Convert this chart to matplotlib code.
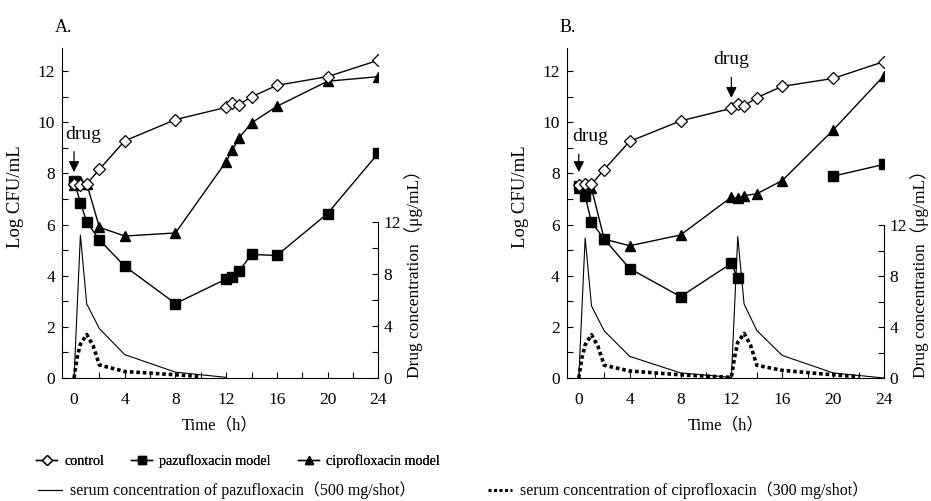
import numpy as np
import matplotlib
matplotlib.use("Agg")
import matplotlib.pyplot as plt
from matplotlib.lines import Line2D
from matplotlib.ticker import MultipleLocator

plt.rcParams['font.family'] = ['Liberation Serif', 'Noto Sans CJK SC']

# ---------------- data ----------------
time_ctrl = [0, 0.5, 1, 2, 4, 8, 12, 12.5, 13, 14, 16, 20, 24]

# Panel A
a_control = [7.6, 7.55, 7.58, 8.16, 9.27, 10.1, 10.58, 10.75, 10.69, 10.99, 11.44, 11.78, 12.42]
a_cipro = [7.55, 7.7, 7.6, 5.89, 5.55, 5.67, 8.46, 8.92, 9.38, 9.97, 10.62, 11.6, 11.78]
a_pazu = [7.7, 6.86, 6.1, 5.4, 4.37, 2.91, 3.87, 3.96, 4.17, 4.83, 4.79, 6.43, 8.79]

a_serum_pazu_t = [0, 0.5, 1, 2, 4, 8, 12]
a_serum_pazu = [0, 11.0, 5.7, 3.8, 1.8, 0.45, 0.05]
a_serum_cipro_t = [0, 0.25, 0.5, 1, 1.5, 2, 4, 8, 10]
a_serum_cipro = [0, 1.6, 2.6, 3.35, 2.5, 1.0, 0.5, 0.25, 0.12]

# Panel B
b_control = [7.53, 7.58, 7.57, 8.15, 9.25, 10.05, 10.54, 10.72, 10.64, 10.96, 11.4, 11.71, 12.37]
b_cipro = [7.42, 7.45, 7.42, 5.43, 5.17, 5.59, 7.07, 7.03, 7.13, 7.2, 7.72, 9.69, 11.82]
b_pazu_t = [0, 0.5, 1, 2, 4, 8, 12, 12.5, 20, 24]
b_pazu = [7.5, 7.11, 6.09, 5.43, 4.28, 3.18, 4.48, 3.89, 7.89, 8.35]
b_pazu_segments = [(0, 8), (8, 10)]  # connected segments (gap between 12.5 h and 20 h)

b_serum_pazu_t = [0, 0.5, 1, 2, 4, 8, 12, 12.5, 13, 14, 16, 20, 24]
b_serum_pazu = [0, 11.0, 5.66, 3.7, 1.7, 0.4, 0.05, 11.1, 5.8, 3.73, 1.77, 0.4, 0]
b_serum_cipro_t = [0, 0.25, 0.5, 1, 1.5, 2, 4, 8, 12, 12.25, 12.5, 13, 13.5, 14, 16, 20, 22]
b_serum_cipro = [0, 1.6, 2.6, 3.4, 2.5, 1.0, 0.55, 0.25, 0.05, 1.6, 2.8, 3.5, 2.6, 1.0, 0.6, 0.25, 0.1]

xticks = [0, 4, 8, 12, 16, 20, 24]

# ---------------- figure ----------------
fig = plt.figure(figsize=(9.31, 5.01), dpi=100)

TICK_FS = 12.5

def setup(ax_rect, panel, right_max):
    ax = fig.add_axes(ax_rect)
    ax.set_xlim(-0.95, 24)
    ax.set_ylim(0, 12.9)
    for s in ['top', 'right']:
        ax.spines[s].set_visible(False)
    ax.set_xticks(xticks)
    ax.xaxis.set_minor_locator(MultipleLocator(2))
    ax.yaxis.set_major_locator(MultipleLocator(2))
    ax.yaxis.set_minor_locator(MultipleLocator(1))
    ax.tick_params(which='both', direction='in', length=4, width=0.8)
    ax.tick_params(axis='x', which='major', labelsize=TICK_FS, pad=10)
    ax.tick_params(axis='y', which='major', labelsize=TICK_FS, pad=5)
    ax.set_ylabel('Log CFU/mL', fontsize=13.5, labelpad=4)
    ax.yaxis.set_label_coords(-0.12, 0.55)
    ax.set_xlabel('Time（h）', fontsize=12, labelpad=7)

    ax2 = ax.twinx()
    ax2.set_ylim(0, right_max)
    for s in ['top', 'left', 'bottom']:
        ax2.spines[s].set_visible(False)
    ax2.spines['right'].set_bounds(0, 12)
    ax2.set_yticks([0, 4, 8, 12])
    ax2.yaxis.set_minor_locator(matplotlib.ticker.FixedLocator([2, 6, 10]))
    ax2.tick_params(which='both', direction='in', length=4, width=0.8)
    ax2.tick_params(axis='y', which='major', labelsize=TICK_FS, pad=4)
    ax2.text(1.112, 0, 'Drug concentration（μg/mL）', transform=ax2.get_yaxis_transform(),
             rotation=90, ha='center', va='bottom', fontsize=12.5)
    fig.text(ax_rect[0] - 0.008, 0.945, panel, fontsize=13, ha='left', va='center')
    return ax, ax2

mk = dict(color='black', lw=1.0)

def drug_arrow(ax, x, y_text, y_tip, tx):
    ax.annotate('', xy=(x, y_tip), xytext=(x, y_text - 0.35),
                arrowprops=dict(arrowstyle='-|>', color='black', lw=0.9,
                                mutation_scale=16, shrinkA=0, shrinkB=0))
    ax.text(tx, y_text, 'drug', fontsize=14, ha='center', va='bottom')

# Panel A
axA, axA2 = setup([0.0666, 0.2455, 0.3397, 0.6587], 'A.', 25.4)
axA2.plot(a_serum_pazu_t, a_serum_pazu, color='black', lw=0.8)
axA2.plot(a_serum_cipro_t, a_serum_cipro, color='black', lw=2.6, linestyle=(0, (1, 0.8)))
axA.plot(time_ctrl, a_pazu, marker='s', ms=7.5, mfc='black', mec='black', **mk)
axA.plot(time_ctrl, a_cipro, marker='^', ms=7.5, mfc='black', mec='black', **mk)
axA.plot(time_ctrl, a_control, marker='D', ms=6.3, mfc='white', mec='black', mew=0.9, **mk)
axA.set_zorder(axA2.get_zorder() + 1)
axA.patch.set_visible(False)
drug_arrow(axA, 0, 9.2, 8.05, 0.75)

# Panel B
axB, axB2 = setup([0.6087, 0.2455, 0.3408, 0.6587], 'B.', 25.9)
axB2.plot(b_serum_pazu_t, b_serum_pazu, color='black', lw=0.8)
axB2.plot(b_serum_cipro_t, b_serum_cipro, color='black', lw=2.6, linestyle=(0, (1, 0.8)))
for s0, s1 in b_pazu_segments:
    axB.plot(b_pazu_t[s0:s1], b_pazu[s0:s1], marker='s', ms=7.5, mfc='black', mec='black', **mk)
axB.plot(time_ctrl, b_cipro, marker='^', ms=7.5, mfc='black', mec='black', **mk)
axB.plot(time_ctrl, b_control, marker='D', ms=6.3, mfc='white', mec='black', mew=0.9, **mk)
axB.set_zorder(axB2.get_zorder() + 1)
axB.patch.set_visible(False)
drug_arrow(axB, 0, 9.1, 8.05, 0.9)
drug_arrow(axB, 12, 12.1, 10.95, 12.0)

# Legends
h1 = [Line2D([], [], color='black', lw=1.0, marker='D', ms=5, mfc='white', mec='black'),
      Line2D([], [], color='black', lw=1.0, marker='s', ms=6, mfc='black', mec='black'),
      Line2D([], [], color='black', lw=1.0, marker='^', ms=6, mfc='black', mec='black')]
l1 = ['control', 'pazufloxacin model', 'ciprofloxacin model']
leg1 = fig.legend(h1, l1, loc='center left', bbox_to_anchor=(0.025, 0.079), ncol=3,
                  frameon=False, fontsize=10.2, handlelength=1.5, handletextpad=0.5,
                  columnspacing=1.9)
h2 = [Line2D([], [], color='black', lw=0.9),
      Line2D([], [], color='black', lw=2.2, linestyle=(0, (1, 0.8)))]
l2 = ['serum concentration of pazufloxacin（500 mg/shot）',
      'serum concentration of ciprofloxacin（300 mg/shot）']
fig.legend(h2, l2, loc='center left', bbox_to_anchor=(0.025, 0.021), ncol=2,
           frameon=False, fontsize=11.5, handlelength=1.5, handletextpad=0.5,
           columnspacing=4.6)
fig.add_artist(leg1)

fig.savefig('out.png', dpi=100)
